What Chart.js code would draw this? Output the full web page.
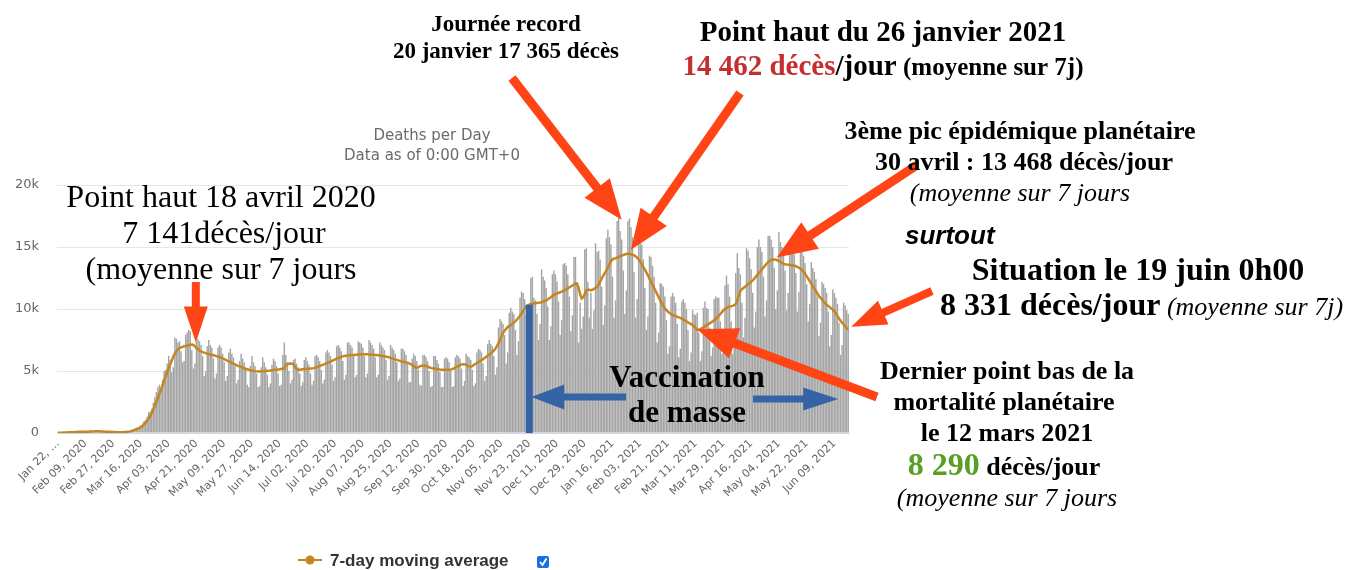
<!DOCTYPE html>
<html>
<head>
<meta charset="utf-8">
<title>Deaths per Day</title>
<script src="https://cdn.jsdelivr.net/npm/chart.js@4.4.0/dist/chart.umd.min.js"></script>
<style>
  html, body { margin: 0; padding: 0; background: #fff; }
  #wrap { width: 1348px; height: 570px; }
</style>
</head>
<body>
<div id="wrap"><canvas id="deathsChart" width="1348" height="570"></canvas></div>
<script>
// Daily deaths, one value per day from Jan 22, 2020 (rows = weeks, Wed..Tue)
const dailyDeaths = [
    17, 8, 16, 14, 24, 26, 26,
    38, 43, 46, 45, 57, 64, 66,
    73, 73, 86, 89, 97, 108, 97,
    254, 121, 143, 142, 105, 98, 136,
    114, 118, 109, 97, 150, 71, 64,
    37, 58, 44, 47, 59, 70, 74,
    82, 83, 101, 99, 104, 174, 208,
    268, 336, 444, 343, 437, 640, 780,
    961, 1057, 1332, 1679, 1741, 1954, 2448,
    2900, 3300, 3700, 3900, 3600, 4300, 5000,
    5100, 5600, 6200, 5900, 4900, 5300, 7700,
    7600, 7300, 7400, 6600, 5700, 5800, 7900,
    8100, 8300, 8200, 6700, 5200, 5600, 7400,
    7600, 7400, 7100, 6200, 4600, 5000, 7000,
    7500, 7100, 6900, 6000, 4400, 4800, 6900,
    7100, 6900, 6400, 5700, 4200, 4600, 6500,
    6800, 6400, 6100, 5400, 4000, 4300, 5800,
    6400, 6000, 5700, 5100, 3900, 3700, 5400,
    6200, 5700, 5400, 4800, 3700, 3800, 5300,
    6100, 5700, 5300, 4700, 3700, 4000, 5500,
    6000, 5800, 5400, 4800, 3800, 3900, 6300,
    7300, 6300, 5700, 5000, 4000, 4300, 5900,
    6000, 5600, 5300, 4800, 3800, 4100, 5900,
    6100, 5800, 5500, 4800, 3900, 4200, 6200,
    6300, 6100, 5800, 5100, 4000, 4300, 6500,
    6700, 6500, 6200, 5500, 4200, 4500, 7000,
    7100, 6900, 6600, 5800, 4300, 4700, 7300,
    7300, 7100, 6900, 6200, 4500, 4700, 7400,
    7300, 7200, 6900, 6200, 4500, 4800, 7500,
    7300, 7100, 6800, 6100, 4500, 4700, 7300,
    7100, 6900, 6700, 5900, 4300, 4600, 7100,
    6900, 6700, 6400, 5700, 4200, 4400, 6800,
    6800, 6600, 6300, 5600, 4100, 4100, 6000,
    6400, 6200, 5800, 5100, 3900, 3800, 6300,
    6300, 6100, 5800, 5000, 3700, 3800, 6200,
    6200, 5900, 5600, 4900, 3700, 3700, 6000,
    6100, 6000, 5700, 5000, 3700, 3800, 6100,
    6300, 6200, 6000, 5200, 3800, 4200, 6400,
    6200, 6100, 5900, 5100, 3800, 4000, 6500,
    6800, 6700, 6500, 5600, 4200, 4600, 7200,
    7500, 7200, 7000, 6200, 4700, 5300, 8500,
    9200, 9000, 8800, 7900, 5600, 6500, 9700,
    10100, 9800, 9600, 8300, 6300, 7400, 10900,
    11400, 11300, 10800, 9500, 7300, 8300, 12500,
    12600, 10900, 10700, 9600, 7500, 8800, 13200,
    12600, 12300, 11700, 10200, 7500, 8600, 12800,
    13100, 12800, 12200, 10600, 7900, 9100, 13600,
    13700, 13500, 12800, 11000, 8200, 9500, 14200,
    14200, 12000, 7300, 10500, 8400, 9400, 14800,
    14900, 12200, 9300, 11300, 8400, 9900, 15300,
    14600, 14700, 14000, 11800, 8700, 10300, 15700,
    16400, 15800, 15200, 12600, 9300, 10700, 17100,
    17365, 16300, 15600, 13100, 9600, 11500, 17100,
    17300, 16600, 15800, 13000, 9300, 10800, 16400,
    15800, 15200, 14000, 11700, 8300, 9400, 14300,
    14200, 13500, 12600, 10500, 7300, 8100, 12100,
    12000, 11800, 11000, 9100, 6400, 7000, 11000,
    11300, 11000, 10500, 8800, 6100, 6800, 10600,
    10800, 10500, 10000, 8300, 5800, 6500, 9900,
    9600, 9500, 9700, 8100, 5800, 6600, 10100,
    10600, 10100, 10000, 8500, 6200, 6900, 10800,
    11000, 10900, 10900, 9000, 6400, 7600, 11900,
    12700, 12000, 11000, 9000, 6400, 7700, 12900,
    14500, 13300, 12800, 10500, 7700, 9300, 14900,
    14700, 14100, 13200, 11300, 8500, 9800, 15000,
    15600, 15000, 14600, 12600, 9400, 10700, 15900,
    15900, 15600, 15000, 13300, 10000, 11500, 16200,
    15400, 15000, 14600, 13100, 9900, 11300, 15300,
    15100, 14800, 14400, 12900, 9800, 11400, 15300,
    14800, 14300, 13700, 12000, 9000, 10400, 13800,
    13300, 13000, 12400, 11000, 7800, 8900, 12200,
    12000, 11700, 11300, 9800, 7000, 7900, 11600,
    11300, 10900, 10400, 8900, 6300, 7100, 10500,
    10300, 9900, 9600
];

// 7-day moving average, same days
const movingAverage = [
    17, 19, 23, 28, 33, 38, 46,
    52, 58, 64, 70, 76, 82, 88,
    92, 96, 99, 102, 104, 106, 108,
    112, 125, 130, 132, 133, 133, 132,
    126, 120, 112, 105, 100, 95, 92,
    88, 82, 75, 70, 68, 66, 66,
    70, 76, 84, 94, 110, 130, 160,
    200, 250, 300, 360, 420, 480, 560,
    680, 820, 980, 1170, 1380, 1620, 1900,
    2200, 2520, 2850, 3180, 3500, 3850, 4200,
    4550, 4900, 5250, 5550, 5850, 6150, 6400,
    6600, 6750, 6850, 6900, 6950, 7000, 7020,
    7050, 7080, 7110, 7141, 7100, 6980, 6850,
    6750, 6650, 6580, 6520, 6480, 6440, 6400,
    6370, 6330, 6300, 6270, 6240, 6200, 6170,
    6130, 6080, 6020, 5960, 5900, 5840, 5780,
    5720, 5660, 5600, 5540, 5480, 5420, 5370,
    5320, 5270, 5220, 5180, 5140, 5100, 5070,
    5040, 5010, 4990, 4970, 4960, 4960, 4970,
    4980, 4990, 5000, 5010, 5020, 5040, 5060,
    5080, 5100, 5110, 5120, 5140, 5160, 5180,
    5200, 5500, 5550, 5580, 5600, 5580, 5550,
    5300, 5150, 5100, 5100, 5120, 5140, 5160,
    5170, 5180, 5190, 5200, 5210, 5230, 5260,
    5300, 5350, 5400, 5450, 5500, 5550, 5600,
    5650, 5700, 5760, 5820, 5880, 5940, 5990,
    6050, 6100, 6150, 6180, 6210, 6230, 6250,
    6260, 6280, 6290, 6300, 6310, 6320, 6330,
    6340, 6350, 6350, 6360, 6360, 6350, 6340,
    6330, 6320, 6310, 6300, 6290, 6270, 6250,
    6230, 6210, 6190, 6160, 6130, 6100, 6060,
    6020, 5980, 5940, 5900, 5860, 5820, 5780,
    5750, 5720, 5690, 5660, 5620, 5560, 5500,
    5400, 5300, 5270, 5300, 5380, 5430, 5430,
    5430, 5400, 5350, 5300, 5250, 5220, 5200,
    5180, 5160, 5140, 5120, 5110, 5100, 5100,
    5100, 5100, 5110, 5120, 5150, 5200, 5280,
    5350, 5420, 5480, 5530, 5550, 5550, 5500,
    5420, 5370, 5350, 5400, 5480, 5560, 5640,
    5720, 5800, 5880, 5960, 6050, 6140, 6230,
    6320, 6420, 6530, 6650, 6800, 7000, 7250,
    7500, 7800, 8050, 8250, 8400, 8550, 8650,
    8700, 8800, 8900, 9000, 9150, 9300, 9450,
    9650, 9850, 10050, 10200, 10300, 10350, 10400,
    10420, 10440, 10460, 10480, 10500, 10520, 10550,
    10600, 10650, 10700, 10780, 10860, 10950, 11050,
    11150, 11200, 11250, 11300, 11350, 11400, 11450,
    11500, 11580, 11660, 11740, 11820, 11900, 11980,
    12050, 12050, 11700, 11200, 10850, 10950, 11200,
    11500, 11550, 11550, 11500, 11550, 11620, 11700,
    11800, 11950, 12200, 12450, 12700, 12900, 13100,
    13350, 13600, 13850, 14000, 14050, 14100, 14150,
    14200, 14250, 14300, 14350, 14400, 14430, 14462,
    14450, 14420, 14380, 14320, 14250, 14150, 14000,
    13820, 13620, 13400, 13180, 12950, 12700, 12450,
    12200, 11950, 11700, 11450, 11200, 10950, 10700,
    10450, 10250, 10050, 9900, 9780, 9680, 9600,
    9530, 9470, 9420, 9380, 9330, 9280, 9220,
    9150, 9080, 9000, 8920, 8850, 8780, 8700,
    8600, 8450, 8290, 8320, 8380, 8450, 8520,
    8600, 8680, 8760, 8840, 8920, 9000, 9100,
    9200, 9320, 9450, 9600, 9750, 9900, 10000,
    10080, 10150, 10200, 10220, 10250, 10300, 10400,
    10700, 11100, 11450, 11600, 11700, 11800, 11900,
    12000, 12100, 12200, 12300, 12450, 12600, 12750,
    12900, 13050, 13200, 13350, 13500, 13650, 13780,
    13880, 13950, 13990, 14000, 13980, 13930, 13870,
    13800, 13720, 13650, 13600, 13580, 13560, 13540,
    13520, 13500, 13480, 13450, 13400, 13330, 13250,
    13150, 13000, 12850, 12650, 12450, 12250, 12050,
    11850, 11650, 11450, 11250, 11050, 10900, 10780,
    10600, 10450, 10350, 10250, 10150, 10050, 9950,
    9800, 9650, 9450, 9250, 9050, 8900, 8750,
    8600, 8450, 8331
];

// x-axis labels, one every 18 days
const TICK_STEP = 18;
const tickLabels = [
    'Jan 22, …', 'Feb 09, 2020', 'Feb 27, 2020', 'Mar 16, 2020', 'Apr 03, 2020',
    'Apr 21, 2020', 'May 09, 2020', 'May 27, 2020', 'Jun 14, 2020', 'Jul 02, 2020',
    'Jul 20, 2020', 'Aug 07, 2020', 'Aug 25, 2020', 'Sep 12, 2020', 'Sep 30, 2020',
    'Oct 18, 2020', 'Nov 05, 2020', 'Nov 23, 2020', 'Dec 11, 2020', 'Dec 29, 2020',
    'Jan 16, 2021', 'Feb 03, 2021', 'Feb 21, 2021', 'Mar 11, 2021', 'Mar 29, 2021',
    'Apr 16, 2021', 'May 04, 2021', 'May 22, 2021', 'Jun 09, 2021'
];

const yTicks = [0, 5000, 10000, 15000, 20000];

// category names: one date per day
const MONTHS = ['Jan', 'Feb', 'Mar', 'Apr', 'May', 'Jun', 'Jul', 'Aug', 'Sep', 'Oct', 'Nov', 'Dec'];
const days = dailyDeaths.map((_, i) => {
    const d = new Date(Date.UTC(2020, 0, 22 + i));
    return MONTHS[d.getUTCMonth()] + ' ' + String(d.getUTCDate()).padStart(2, '0') + ', ' + d.getUTCFullYear();
});

const SERIF = '"Liberation Serif", "Times New Roman", serif';
const SANS = '"DejaVu Sans", sans-serif';
const RED = '#ff4516';
const BLUE = '#3564a6';
const LINE_COLOR = '#c6861f';

// filled arrow from (x1,y1) to tip (x2,y2)
function drawArrow(ctx, x1, y1, x2, y2, shaft, headW, headL, color) {
    const ang = Math.atan2(y2 - y1, x2 - x1);
    const len = Math.hypot(x2 - x1, y2 - y1);
    ctx.save();
    ctx.translate(x1, y1);
    ctx.rotate(ang);
    ctx.fillStyle = color;
    ctx.beginPath();
    ctx.moveTo(0, -shaft / 2);
    ctx.lineTo(len - headL, -shaft / 2);
    ctx.lineTo(len - headL, -headW / 2);
    ctx.lineTo(len, 0);
    ctx.lineTo(len - headL, headW / 2);
    ctx.lineTo(len - headL, shaft / 2);
    ctx.lineTo(0, shaft / 2);
    ctx.closePath();
    ctx.fill();
    ctx.restore();
}

// one line of text made of styled parts: [text, font, color]
function textLine(ctx, parts, x, y, align) {
    let w = 0;
    parts.forEach(p => { ctx.font = p[1]; w += ctx.measureText(p[0]).width; });
    let cx = align === 'left' ? x : x - w / 2;
    ctx.textAlign = 'left';
    ctx.textBaseline = 'alphabetic';
    parts.forEach(p => {
        ctx.font = p[1];
        ctx.fillStyle = p[2] || '#000';
        ctx.fillText(p[0], cx, y);
        cx += ctx.measureText(p[0]).width;
    });
}

const annotations = {
    id: 'annotations',
    afterDraw(chart) {
        const ctx = chart.ctx;
        const xs = chart.scales.x, ys = chart.scales.y;
        const px = i => xs.getPixelForValue(i);
        const py = v => ys.getPixelForValue(v);
        const idx = label => days.indexOf(label);

        ctx.save();

        // chart title
        ctx.fillStyle = '#6b6b6b';
        ctx.font = '15px ' + SANS;
        ctx.textAlign = 'center';
        ctx.fillText('Deaths per Day', 432, 140);
        ctx.fillText('Data as of 0:00 GMT+0', 432, 160);

        // legend
        ctx.strokeStyle = LINE_COLOR;
        ctx.lineWidth = 2;
        ctx.beginPath();
        ctx.moveTo(298, 560);
        ctx.lineTo(322, 560);
        ctx.stroke();
        ctx.fillStyle = LINE_COLOR;
        ctx.beginPath();
        ctx.arc(310, 560, 4.5, 0, Math.PI * 2);
        ctx.fill();
        textLine(ctx, [['7-day moving average', 'bold 17px "Liberation Sans", sans-serif', '#333']], 330, 566, 'left');
        ctx.fillStyle = '#1a6fe0';
        ctx.beginPath();
        ctx.roundRect(537, 556, 12, 12, 2);
        ctx.fill();
        ctx.strokeStyle = '#fff';
        ctx.lineWidth = 1.8;
        ctx.beginPath();
        ctx.moveTo(540, 562);
        ctx.lineTo(542.5, 565);
        ctx.lineTo(546.5, 558.5);
        ctx.stroke();

        // mass vaccination marker
        const vax = idx('Nov 23, 2020');
        ctx.fillStyle = BLUE;
        ctx.fillRect(px(vax) - 3.5, py(movingAverage[vax]), 7, py(0) - py(movingAverage[vax]));
        drawArrow(ctx, 626, 397, px(vax) + 2, 397, 7, 25, 33, BLUE);
        drawArrow(ctx, 753, 399, px(days.length - 1) - 10, 399, 7, 23, 35, BLUE);
        textLine(ctx, [['Vaccination', 'bold 31px ' + SERIF]], 687, 387);
        textLine(ctx, [['de masse', 'bold 31px ' + SERIF]], 687, 422);

        // peak of April 2020
        const aprPeak = idx('Apr 18, 2020');
        drawArrow(ctx, px(aprPeak) + 4, 282, px(aprPeak) + 4, py(movingAverage[aprPeak]) - 2, 8, 24, 36, RED);
        const reg32 = '32px ' + SERIF;
        textLine(ctx, [['Point haut 18 avril 2020', reg32]], 221, 207);
        textLine(ctx, [['7 141décès/jour', reg32]], 224, 243);
        textLine(ctx, [['(moyenne sur 7 jours', reg32]], 221, 279);

        // record day
        const record = idx('Jan 20, 2021');
        drawArrow(ctx, 512, 78, px(record) + 3, py(dailyDeaths[record]) + 2, 9, 32, 40, RED);
        textLine(ctx, [['Journée record', 'bold 23px ' + SERIF]], 506, 31);
        textLine(ctx, [['20 janvier 17 365 décès', 'bold 23px ' + SERIF]], 506, 58);

        // peak of January 2021
        const janPeak = idx('Jan 26, 2021');
        drawArrow(ctx, 740, 93, px(janPeak) + 3, py(movingAverage[janPeak]) - 4, 9, 32, 40, RED);
        textLine(ctx, [['Point haut du 26 janvier 2021', 'bold 29px ' + SERIF]], 883, 41);
        textLine(ctx, [
            ['14 462 décès', 'bold 29px ' + SERIF, '#c62d2d'],
            ['/jour', 'bold 29px ' + SERIF],
            [' (moyenne sur 7j)', 'bold 25px ' + SERIF]
        ], 883, 75);

        // third peak
        const aprPeak21 = idx('Apr 30, 2021');
        drawArrow(ctx, 917, 165, px(aprPeak21) + 4, py(movingAverage[aprPeak21]) - 2, 9, 32, 40, RED);
        textLine(ctx, [['3ème pic épidémique planétaire', 'bold 26px ' + SERIF]], 1020, 139);
        textLine(ctx, [['30 avril : 13 468 décès/jour', 'bold 26px ' + SERIF]], 1024, 170);
        textLine(ctx, [['(moyenne sur 7 jours', 'italic 26px ' + SERIF]], 1020, 201);

        // situation on June 19
        const last = days.length - 1;
        drawArrow(ctx, 932, 291, px(last) + 3, py(movingAverage[last]) - 3, 8, 26, 35, RED);
        textLine(ctx, [['surtout', 'italic bold 26px "Liberation Sans", sans-serif']], 905, 244, 'left');
        textLine(ctx, [['Situation le 19 juin 0h00', 'bold 32px ' + SERIF]], 1138, 280);
        textLine(ctx, [
            ['8 331 décès/jour', 'bold 32px ' + SERIF],
            [' (moyenne sur 7j)', 'italic 26px ' + SERIF]
        ], 940, 315, 'left');

        // last low point
        const low = idx('Mar 12, 2021');
        drawArrow(ctx, 877, 397, px(low), py(movingAverage[low]) - 1, 9, 32, 40, RED);
        const b26 = 'bold 26px ' + SERIF;
        textLine(ctx, [['Dernier point bas de la', b26]], 1007, 379);
        textLine(ctx, [['mortalité planétaire', b26]], 1004, 410);
        textLine(ctx, [['le 12 mars 2021', b26]], 1007, 441);
        textLine(ctx, [
            ['8 290', 'bold 32px ' + SERIF, '#5a9e25'],
            [' décès/jour', b26]
        ], 1004, 475);
        textLine(ctx, [['(moyenne sur 7 jours', 'italic 26px ' + SERIF]], 1007, 506);

        ctx.restore();
    }
};

const ctx = document.getElementById('deathsChart').getContext('2d');
const deathsChart = new Chart(ctx, {
    type: 'bar',
    data: {
        labels: days,
        datasets: [
            {
                type: 'line',
                label: '7-day moving average',
                data: movingAverage,
                borderColor: LINE_COLOR,
                borderWidth: 2.5,
                pointRadius: 0,
                fill: false,
                tension: 0,
                order: 0
            },
            {
                type: 'bar',
                label: 'Daily Deaths',
                data: dailyDeaths,
                backgroundColor: '#a4a4a4',
                borderWidth: 0,
                barPercentage: 0.92,
                categoryPercentage: 1.0,
                order: 1
            }
        ]
    },
    options: {
        responsive: false,
        devicePixelRatio: 1,
        animation: false,
        layout: { padding: { top: 185, right: 499, bottom: 47, left: 0 } },
        plugins: {
            legend: { display: false },
            tooltip: { enabled: false },
            title: { display: false }
        },
        scales: {
            x: {
                grid: { display: false, drawTicks: false },
                border: { color: '#ccd6eb' },
                ticks: {
                    autoSkip: false,
                    maxRotation: 45,
                    minRotation: 45,
                    padding: 4,
                    color: '#666',
                    font: { family: 'DejaVu Sans', size: 11 },
                    callback: (val, i) => (i % TICK_STEP === 0 ? tickLabels[i / TICK_STEP] : '')
                },
                afterFit: axis => { axis.height = 90; }
            },
            y: {
                min: 0,
                max: 20000,
                border: { display: false },
                grid: {
                    color: c => (c.tick && c.tick.value === 0 ? '#ccd6eb' : '#e6e6e6'),
                    drawTicks: false
                },
                afterBuildTicks: axis => { axis.ticks = yTicks.map(v => ({ value: v })); },
                ticks: {
                    padding: 18,
                    color: '#666',
                    font: { family: 'DejaVu Sans', size: 13 },
                    callback: v => (v === 0 ? '0' : v / 1000 + 'k')
                },
                afterFit: axis => { axis.width = 57; }
            }
        }
    },
    plugins: [annotations]
});
</script>
</body>
</html>
